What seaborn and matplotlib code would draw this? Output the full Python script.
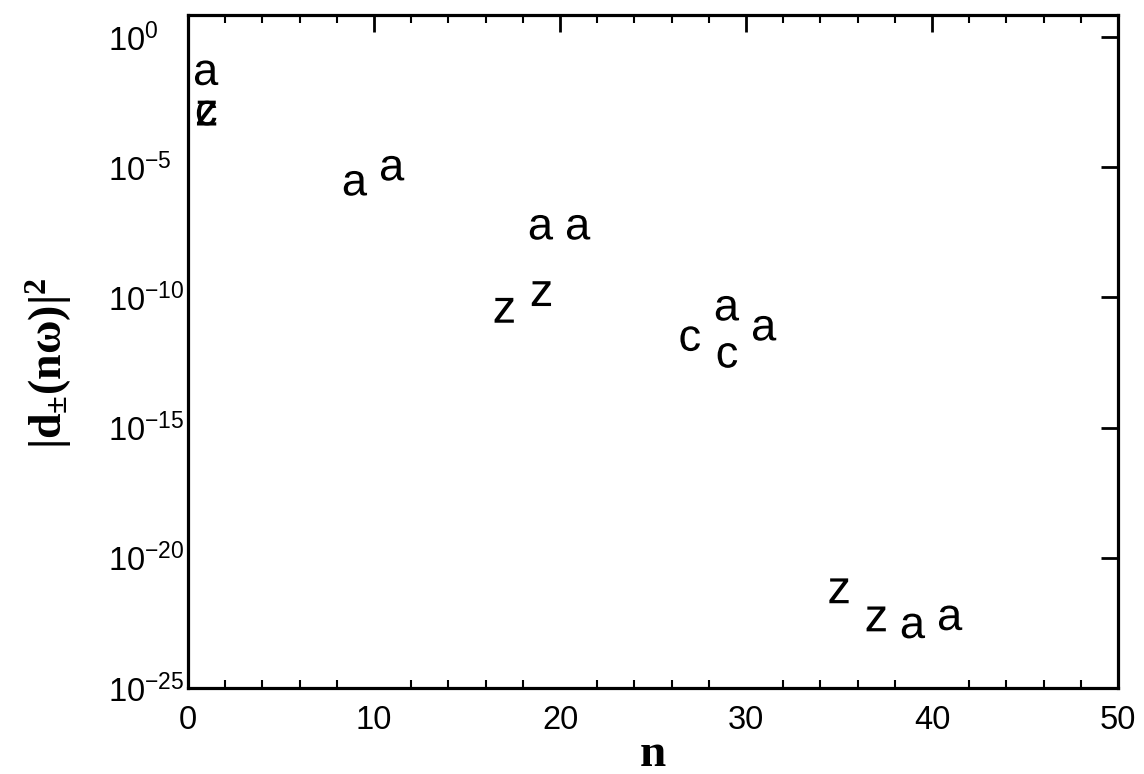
import matplotlib
matplotlib.use("Agg")
import matplotlib.pyplot as plt
import seaborn as sns
import pandas as pd
import numpy as np
from matplotlib.ticker import LogFormatterMathtext, MultipleLocator, NullLocator

# data
n_values = [1, 1, 1, 9, 11, 19, 21, 17, 19, 27, 29, 29, 31, 35, 37, 39, 41]
d2_values = [4.2e-2, 1.2e-3, 1.2e-3, 2.4e-6, 9.1e-6, 4.9e-8, 4.9e-8, 3.2e-11, 1.4e-10,
             2.6e-12, 3.8e-11, 5.9e-13, 6.5e-12, 5.4e-22, 4.5e-23, 2.4e-23, 4.9e-23]
letters = ["a", "z", "c", "a", "a", "a", "a", "z", "z", "c", "a", "c", "a", "z", "z", "a", "a"]
x_ticks = [0, 10, 20, 30, 40, 50]
y_ticks = [1e-25, 1e-20, 1e-15, 1e-10, 1e-5, 1e0]

sns.set_style("white")
plt.rcParams['font.family'] = ['Liberation Sans', 'DejaVu Sans']
plt.rcParams['mathtext.fontset'] = 'custom'
plt.rcParams['mathtext.bf'] = 'Liberation Serif:bold'
plt.rcParams['mathtext.rm'] = 'Liberation Serif'
plt.rcParams['mathtext.it'] = 'Liberation Serif:italic'
plt.rcParams['text.color'] = 'black'
plt.rcParams['axes.labelcolor'] = 'black'
plt.rcParams['xtick.color'] = 'black'
plt.rcParams['ytick.color'] = 'black'

df = pd.DataFrame({"n": n_values, "d2": d2_values, "letter": letters})

fig = plt.figure(figsize=(11.44, 7.74), dpi=100)
ax = fig.add_axes([188/1144, 1 - 688/774, (1118-188)/1144, (688-15)/774])

markers = {"a": r"$\mathregular{a}$", "z": r"$\mathregular{z}$", "c": r"$\mathregular{c}$"}
sns.scatterplot(data=df, x="n", y="d2", style="letter", markers=markers,
                color="black", s=320, linewidth=0, edgecolor="none", legend=False, ax=ax)

ax.set_yscale("log")
ax.set_xlim(0, 50)
ax.set_ylim(1e-25, 10**0.846)
ax.set_xticks(x_ticks)
ax.xaxis.set_minor_locator(MultipleLocator(2))
ax.set_yticks(y_ticks)
ax.yaxis.set_major_formatter(LogFormatterMathtext())
ax.yaxis.set_minor_locator(NullLocator())

ax.tick_params(axis="both", which="major", direction="in", length=12, width=2,
               top=True, right=True, labelsize=23.5, color="black", labelcolor="black")
ax.tick_params(axis="x", which="major", pad=12)
ax.tick_params(axis="y", which="major", pad=57.6)
ax.tick_params(axis="x", which="minor", direction="in", length=6, width=1.5,
               top=True, bottom=True, color="black")
for lab in ax.get_yticklabels():
    lab.set_horizontalalignment("left")
for sp in ax.spines.values():
    sp.set_linewidth(2.3)
    sp.set_color("black")

ax.set_xlabel(r"$\mathbf{n}$", fontsize=34)
ax.xaxis.set_label_coords(0.5, -(776 - 688) / 673)
ax.xaxis.label.set_verticalalignment("bottom")
ax.set_ylabel(r"$\mathbf{|d_{\pm}(n\omega)|^2}$", fontsize=33)
ax.yaxis.set_label_coords((74 - 188) / 930, (688 - 363) / 673)

fig.savefig("out.png", dpi=100)
